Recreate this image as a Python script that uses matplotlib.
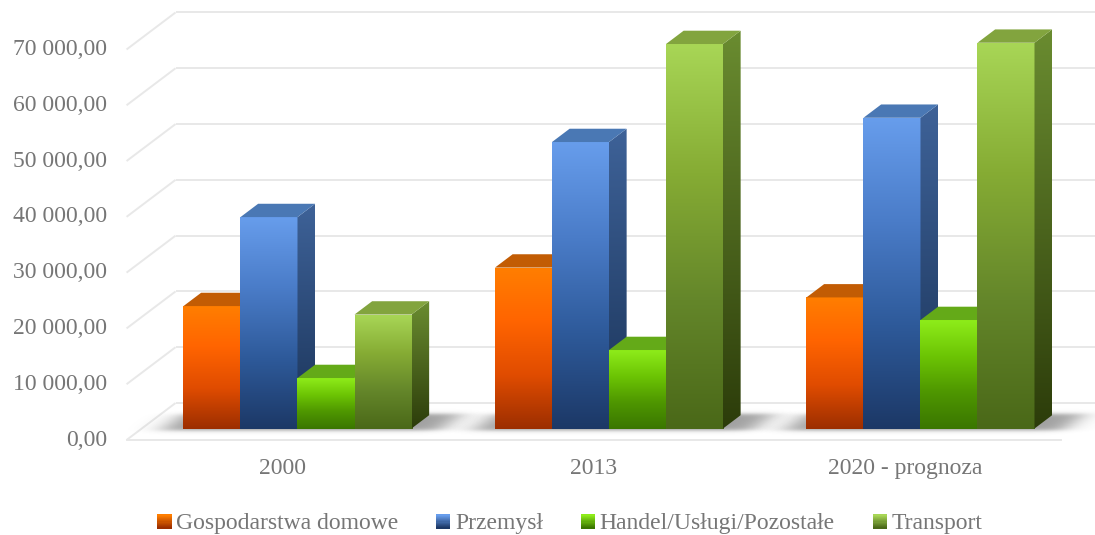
import numpy as np
import matplotlib
matplotlib.use("Agg")
import matplotlib.pyplot as plt
from matplotlib.patches import Polygon, Rectangle
from matplotlib.colors import LinearSegmentedColormap
from matplotlib.legend_handler import HandlerBase

categories = ["2000", "2013", "2020 - prognoza"]
series_names = ["Gospodarstwa domowe", "Przemysł", "Handel/Usługi/Pozostałe", "Transport"]
gospodarstwa = [21950, 28850, 23500]
przemysl = [37900, 51350, 55700]
handel = [9050, 14070, 19450]
transport = [20430, 68920, 69150]
y_ticks = [0, 10000, 20000, 30000, 40000, 50000, 60000, 70000]

# front gradient (top -> bottom), top face colour, side gradient (top -> bottom)
styles = [
    dict(front=["#ff7e00", "#ff6400", "#e04c00", "#9c2e00"], top="#c25c04",
         side=["#c05000", "#7a2400"]),
    dict(front=["#679dec", "#4a7cc8", "#2e5a9a", "#1c3866"], top="#4a78b4",
         side=["#3e6298", "#1a3358"]),
    dict(front=["#8eec1a", "#6cc404", "#4e9600", "#3a7600"], top="#64aa18",
         side=["#4e8e10", "#2e5800"]),
    dict(front=["#a8d656", "#86ac34", "#64862a", "#4a6818"], top="#82a43e",
         side=["#6a8c30", "#2c3c0a"]),
]

text_c = "#767676"
grid_c = "#e8e8e8"
FONT = "Liberation Serif"

# oblique depth: one unit of depth moves (DX, DV) in data coords
DX, DV = 0.1573, 6632
d0, d1 = 0.31, 0.67
bar_w = 0.183


def vgrad(ax, stops, extent, z, clip=None):
    cmap = LinearSegmentedColormap.from_list("g", stops)
    arr = np.linspace(0, 1, 256).reshape(-1, 1)
    im = ax.imshow(arr, cmap=cmap, extent=extent, aspect="auto",
                   interpolation="bilinear", origin="upper", zorder=z)
    if clip is not None:
        poly = Polygon(clip, closed=True, transform=ax.transData,
                       facecolor="none", edgecolor="none")
        im.set_clip_path(poly)
    return im


def draw_bar(ax, x0, val, sty, z):
    fx0 = x0 + d0 * DX
    fv0 = d0 * DV
    fx1 = fx0 + bar_w
    top = fv0 + val
    ddx, ddv = (d1 - d0) * DX, (d1 - d0) * DV
    vgrad(ax, sty["front"], [fx0, fx1, fv0, top], z)
    side = [(fx1, fv0), (fx1, top), (fx1 + ddx, top + ddv), (fx1 + ddx, fv0 + ddv)]
    vgrad(ax, sty["side"], [fx1, fx1 + ddx, fv0, top + ddv], z + 0.1, clip=side)
    ax.add_patch(Polygon([(fx0, top), (fx1, top), (fx1 + ddx, top + ddv),
                          (fx0 + ddx, top + ddv)], closed=True,
                         facecolor=sty["top"], edgecolor="none", zorder=z + 0.2))


def soft(t, a, b, w):
    return 0.25 * (1 + np.tanh((t - a) / w)) * (1 + np.tanh((b - t) / w))


def draw_shadow(ax, xl, xr):
    # soft contact shadow on the floor under one group of bars
    bx0, bx1 = xl - 0.25, xr + DX + 0.3
    bv0, bv1 = 0.0, DV
    xs = np.linspace(bx0, bx1, 500)
    vs = np.linspace(bv0, bv1, 160)
    X, V = np.meshgrid(xs, vs)
    d = V / DV
    xf = X - d * DX
    a = soft(xf, xl - 0.06, xr + 0.1, 0.05) * soft(d, d0 - 0.06, d1 + 0.02, 0.06)
    rgba = np.zeros(X.shape + (4,))
    rgba[..., :3] = 0.25
    rgba[..., 3] = 0.5 * a
    ax.imshow(rgba, extent=[bx0, bx1, bv0, bv1], origin="lower", aspect="auto",
              interpolation="bilinear", zorder=1)


class GradientKey:
    def __init__(self, stops):
        self.stops = stops


class GradientHandler(HandlerBase):
    def create_artists(self, legend, orig_handle, xdescent, ydescent,
                       width, height, fontsize, trans):
        side = min(width, height * 1.1)
        x0 = -xdescent + (width - side) / 2
        y0 = -ydescent + (height - side) / 2 - 0.05 * height
        cmap = LinearSegmentedColormap.from_list("k", orig_handle.stops)
        n = 12
        arts = []
        for k in range(n):
            r = Rectangle((x0, y0 + side * (n - 1 - k) / n), side, side / n + 0.3,
                          facecolor=cmap(k / (n - 1)), edgecolor="none",
                          transform=trans)
            arts.append(r)
        return arts


fig = plt.figure(figsize=(10.95, 5.35), dpi=100)
ax = fig.add_axes([0, 0, 1, 1])
ax.set_axis_off()

# walls: left wall diagonals, back wall gridlines, front floor edge
for v in y_ticks:
    ax.plot([-0.5, -0.5 + DX], [v, v + DV], color=grid_c, lw=1.4, zorder=0.5,
            solid_capstyle="butt")
    ax.plot([-0.5 + DX, 2.5 + DX], [v + DV, v + DV], color=grid_c, lw=1.4,
            zorder=0.5, solid_capstyle="butt")
ax.plot([-0.5, 2.5], [0, 0], color=grid_c, lw=1.4, zorder=0.5)

values = [gospodarstwa, przemysl, handel, transport]
z = 2
for i in range(len(categories)):
    left = i - 2 * bar_w
    draw_shadow(ax, left, left + 4 * bar_w)
    for k, vals in enumerate(values):
        draw_bar(ax, left + k * bar_w, vals[i], styles[k], z)
        z += 1

for v in y_ticks:
    lab = f"{v:,.2f}".replace(",", " ").replace(".", ",")
    ax.text(-0.563, v, lab, ha="right", va="center", fontsize=17,
            color=text_c, family=FONT)

for i, cat in enumerate(categories):
    ax.text(i, -5100, cat, ha="center", va="center", fontsize=17,
            color=text_c, family=FONT)

handles = [GradientKey([s["front"][0], s["front"][-1]]) for s in styles]
leg = ax.legend(handles, series_names, handler_map={GradientKey: GradientHandler()},
                loc="center", bbox_to_anchor=(0.5205, 0.0206), ncol=4,
                frameon=False, columnspacing=1.6,
                handlelength=0.6, handleheight=0.6, handletextpad=0.2,
                borderpad=0, prop={"family": FONT, "size": 17})
for t in leg.get_texts():
    t.set_color(text_c)

ax.set_xlim(-0.9063, 2.609)
ax.set_ylim(-17028, 78867)

fig.savefig("out.png", dpi=100)
